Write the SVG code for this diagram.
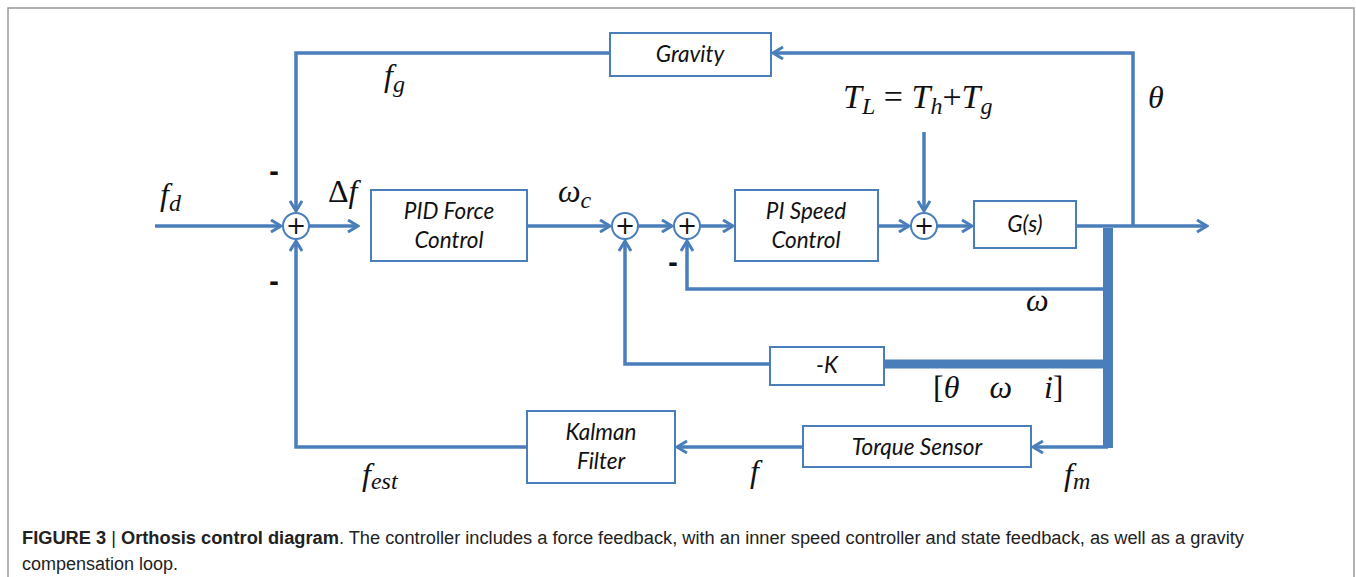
<svg xmlns="http://www.w3.org/2000/svg" width="1356" height="577" viewBox="0 0 1356 577">
<defs>
<marker id="arr" viewBox="0 0 14 14" refX="12" refY="7" markerWidth="14" markerHeight="14" markerUnits="userSpaceOnUse" orient="auto">
<polyline points="2,1 12,7 2,13" fill="none" stroke="#4a7ebb" stroke-width="3" stroke-linejoin="miter"/>
</marker>
<style>
.ln{fill:none;stroke:#4a7ebb;stroke-width:3.5}
.thick{fill:none;stroke:#4a7ebb}
.box{fill:#fff;stroke:#4a7ebb;stroke-width:2}
.sum{fill:#fff;stroke:#4a7ebb;stroke-width:2}
.bl{font-family:Lato,"Open Sans",sans-serif;font-style:italic;font-size:22.5px;fill:#111;text-anchor:middle}
.m{font-family:"Liberation Serif","DejaVu Serif",serif;font-style:italic;font-size:32px;fill:#111}
.sub{font-size:24px}
.pl{font-family:"DejaVu Sans",sans-serif;font-size:24px;fill:#111;text-anchor:middle}
.neg{font-family:"DejaVu Sans",sans-serif;font-weight:bold;font-size:24px;fill:#111;text-anchor:middle}
.cap{font-family:"Liberation Sans",Arial,sans-serif;font-size:18px;fill:#222}
</style>
</defs>
<rect width="1356" height="577" fill="#fff"/>
<path d="M8,577 V8 H1354 V577" fill="none" stroke="#999" stroke-width="1.5"/>

<g id="connectors">
<line class="ln" x1="155" y1="226" x2="281" y2="226" marker-end="url(#arr)"/>
<line class="ln" x1="309" y1="226" x2="358" y2="226" marker-end="url(#arr)"/>
<line class="ln" x1="527" y1="226" x2="610" y2="226" marker-end="url(#arr)"/>
<line class="ln" x1="638" y1="226" x2="672" y2="226" marker-end="url(#arr)"/>
<line class="ln" x1="700" y1="226" x2="733" y2="226" marker-end="url(#arr)"/>
<line class="ln" x1="878" y1="226" x2="909" y2="226" marker-end="url(#arr)"/>
<line class="ln" x1="937" y1="226" x2="972" y2="226" marker-end="url(#arr)"/>
<line class="ln" x1="1076" y1="226" x2="1207" y2="226" marker-end="url(#arr)"/>
<polyline class="ln" points="1133,226 1133,53 773,53" marker-end="url(#arr)"/>
<polyline class="ln" points="610,53 296,53 296,211" marker-end="url(#arr)"/>
<line class="ln" x1="924" y1="132" x2="924" y2="211" marker-end="url(#arr)"/>
<polyline class="ln" points="1108,289 687,289 687,241" marker-end="url(#arr)"/>
<polyline class="ln" points="770,364 625,364 625,241" marker-end="url(#arr)"/>
<line class="thick" x1="1108" y1="228" x2="1108" y2="448" stroke-width="10"/>
<line class="thick" x1="884" y1="364" x2="1108" y2="364" stroke-width="9"/>
<polyline class="ln" points="1108,447 1033,447" marker-end="url(#arr)"/>
<line class="ln" x1="803" y1="447" x2="677" y2="447" marker-end="url(#arr)"/>
<polyline class="ln" points="527,447 296,447 296,241" marker-end="url(#arr)"/>
</g>

<g id="sum1"><circle class="sum" cx="296" cy="226" r="13"/><text class="pl" x="296" y="234">+</text></g>
<g id="sum2"><circle class="sum" cx="625" cy="226" r="13"/><text class="pl" x="625" y="234">+</text></g>
<g id="sum3"><circle class="sum" cx="687" cy="226" r="13"/><text class="pl" x="687" y="234">+</text></g>
<g id="sum4"><circle class="sum" cx="924" cy="226" r="13"/><text class="pl" x="924" y="234">+</text></g>

<g id="pid"><rect class="box" x="371" y="190" width="156" height="71"/><text class="bl" x="449" y="219">PID Force</text><text class="bl" x="449" y="248">Control</text></g>
<g id="pi"><rect class="box" x="735" y="190" width="143" height="71"/><text class="bl" x="806" y="219">PI Speed</text><text class="bl" x="806" y="248">Control</text></g>
<g id="gs"><rect class="box" x="974" y="201" width="102" height="47"/><text class="bl" x="1025" y="232">G(s)</text></g>
<g id="gravity"><rect class="box" x="610" y="33" width="161" height="43"/><text class="bl" x="690" y="62">Gravity</text></g>
<g id="k"><rect class="box" x="770" y="347" width="114" height="38"/><text class="bl" x="827" y="373">-K</text></g>
<g id="torque"><rect class="box" x="803" y="426" width="228" height="41"/><text class="bl" x="917" y="455">Torque Sensor</text></g>
<g id="kalman"><rect class="box" x="527" y="411" width="148" height="72"/><text class="bl" x="601" y="440">Kalman</text><text class="bl" x="601" y="469">Filter</text></g>

<g id="labels">
<text class="m" x="160" y="205">f<tspan class="sub" dy="6">d</tspan></text>
<text class="neg" x="274" y="180">-</text>
<text class="neg" x="274" y="290">-</text>
<text class="m" x="328" y="202" style="font-style:normal">Δ<tspan style="font-style:italic">f</tspan></text>
<text class="m" x="384" y="86">f<tspan class="sub" dy="6">g</tspan></text>
<text class="m" x="558" y="202">ω<tspan class="sub" dy="6">c</tspan></text>
<text class="neg" x="673" y="271">-</text>
<text class="m" x="843" y="108" style="font-size:34px">T<tspan class="sub" dy="6">L</tspan><tspan dy="-6" style="font-style:normal"> = </tspan>T<tspan class="sub" dy="6">h</tspan><tspan dy="-6" style="font-style:normal">+</tspan>T<tspan class="sub" dy="6">g</tspan></text>
<text class="m" x="1148" y="108">θ</text>
<text class="m" x="1026" y="311">ω</text>
<text class="m" x="933" y="398"><tspan style="font-style:normal">[</tspan>θ<tspan dx="30">ω</tspan><tspan dx="32">i</tspan><tspan style="font-style:normal">]</tspan></text>
<text class="m" x="362" y="485">f<tspan class="sub" dy="4">est</tspan></text>
<text class="m" x="750" y="482">f</text>
<text class="m" x="1064" y="485">f<tspan class="sub" dy="4">m</tspan></text>
</g>

<g id="caption">
<text class="cap" x="22" y="544" textLength="1222" lengthAdjust="spacingAndGlyphs"><tspan font-weight="bold">FIGURE 3</tspan> | <tspan font-weight="bold">Orthosis control diagram</tspan>. The controller includes a force feedback, with an inner speed controller and state feedback, as well as a gravity</text>
<text class="cap" x="22" y="570">compensation loop.</text>
</g>
</svg>
